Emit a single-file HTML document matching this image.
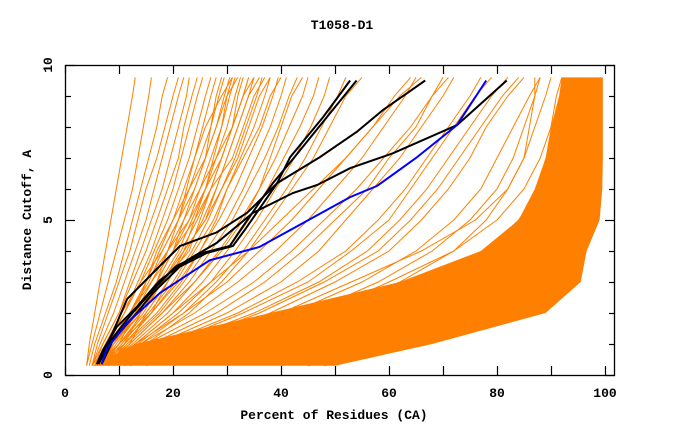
<!DOCTYPE html>
<html><head><meta charset="utf-8"><style>
body{margin:0;background:#fff}
svg text{font-family:"Liberation Mono",monospace;font-weight:bold;font-size:13px;fill:#000}
</style></head><body>
<svg id="chart" width="680" height="440">
<text x="342" y="29" text-anchor="middle">T1058-D1</text>
<text x="334" y="419" text-anchor="middle">Percent of Residues (CA)</text>
<text transform="translate(31,220) rotate(-90)" text-anchor="middle">Distance Cutoff, A</text>
<g id="plot"></g>
<g id="axes"></g>
</svg>
<script>
const yGrid=[0.3,1,2,3,4,5,6,7,8,9,9.6];
const xTicks=[0,20,40,60,80,100];
const yTicks=[0,5,10];
const bandUpper=[5,13,38,62,77,84,87,89,90,91.5,92];
const bandLower=[50,68,89,95.5,96.6,99,99.5,99.6,99.6,99.6,99.6];
const leftLines=[
[4,4.5,5.5,6.5,7.5,8.5,9.5,10.5,11.5,12.5,13],
[4,5,6.5,8,9.5,11,12.5,13.5,14.5,15.5,16],
[4.5,5.5,7.5,9.5,11,12.5,14,15.5,17,18,19],
[5,6,8,10,12,13.5,15,17,18.5,20,21],
[5,6.5,9,11,13,15,16.5,18,19.5,21,22],
[5,7,10,12,14,16,18,19.5,21,22.5,23],
[5.5,7,10,12.5,15,17,19,21,22,23.5,24.5],
[5.5,7.5,11,13.5,16,18,20,21.5,23,24.5,25.5],
[6,8,11,14,16.5,19,21,23,24.5,26,27],
[6,8,12,15,17.5,20,22,24,25.5,27,28],
[6,8.5,12,15.5,18,21,23,25,27,28.5,29.5],
[6,9,13,16,19,22,24,26,28,29.5,30.5],
[6.5,9,13.5,17,20,23,25,27,29,30.5,31.5],
[6.5,9.5,14,17.5,21,23.5,26,28,30,31.5,32.5],
[6.5,10,14.5,18,21.5,24.5,27,29,31,33,34],
[7,10,15,19,22.5,25.5,28,30,32,34,35],
[7,10.5,15.5,20,23.5,26.5,29,31.5,33.5,35.5,36.5],
[7,11,16,20.5,24,27.5,30,32.5,35,37,38],
[7,11,17,21.5,25,28.5,31.5,34,36.5,38.5,39.5],
[7.5,11.5,17.5,22,26,30,33,35.5,38,40,41],
[7.5,12,18,23,27,31,34,37,39.5,41.5,43],
[7.5,12.5,19,24,28.5,32.5,36,39,41.5,44,45],
[8,13,20,25.5,30,34,37.5,40.5,43.5,46,47],
[8,13.5,21,27,31.5,35.5,39,42.5,45.5,48,49],
[8,14,22,28,33,37,41,44.5,47.5,50.5,52],
[6,7.5,10.5,14,18,21,22.5,24,26,29,31],
[7,9,12,15,19,23,26,27.5,29,30,31],
[5,8,13,15,17,20,23,26,28,30,32],
[6,10,13,17,20,22,25,28,31,32,33],
[7,12,15,19,22,26,28,30,32,34,36],
[8,11,14,18,23,25,27,31,33,35,37],
[5.5,9,13,17,19,21,24,26,27,28,29],
[6,11,16,19,22,24,26,29,31,33,34],
[6,9,14,18,22,26,29,32,34,36,38],
[7,10,16,21,25,28,30,33,36,38,40],
[6.5,8,12,16,20,24,27,29,31,33,35],
[8,12,18,24,29,33,36,38,40,42,44],
[9,15,23,29,34,38,42,46,49,52,55]
];
const midLines=[
[8,14,24,32,39,45,50,55,59,63,65],
[8,15,26,35,42,48,54,59,64,68,70],
[9,17,30,40,47,52,57,62,66,70,72],
[9,18,32,43,52,58,63,67,71,75,77],
[10,20,35,47,56,62,67,71,75,79,82],
[10,22,38,50,60,66,71,75,78,82,85],
[11,24,42,55,65,72,77,80,83,86,88],
[12,26,45,58,68,75,80,83,85,87,88],
[9,16,28,37,44,50,56,60,65,68,71],
[10,19,33,45,53,60,64,68,72,76,79],
[7,13,22,30,36,42,47,52,57,61,64],
[12,28,48,62,72,78,82,85,86,87,87],
[8,13,20,27,34,40,46,52,57,62,66],
[11,21,36,48,58,64,69,73,77,81,84]
];
const denseLines=[
[10,25,40,53,66,76,82,85,87,89,90],
[15,32,47,60,72,80,85,88,90,91,92],
[20,40,55,68,78,84,88,90,92,93,94],
[30,50,65,76,84,88,91,93,94,95,96],
[40,60,73,82,88,91,93,94,95,96,97],
[45,64,80,87,91,93,95,96,97,97.5,98],
[48,66,86,92,94,96,97,97.5,98,98.5,99]
];
const blueY=[0.35,0.84,1.68,2.65,3.7,4.13,4.85,5.74,6.1,7,8.06,9.5];
const blueX=[6.8,7.7,11.5,17.6,26.8,36,43.5,52.8,57.8,65,72.6,78];
const blackAY=[0.35,0.8,1.55,2.2,3.06,3.7,4.26,5.23,5.87,6.13,6.67,7.15,8.06,9.5];
const blackAX=[5.9,7,9.6,13.3,17.6,22.6,28.1,34.8,42.2,46.7,52.8,60.7,72.6,81.8];
const blackBY=[0.35,1.4,2.45,3.42,4.16,4.6,5.23,6.19,7.03,7.84,8.55,9.5];
const blackBX=[5.9,8.9,11.5,17,21.3,28.1,33.7,39.3,47.2,54,58.9,66.7];
const blackCY=[0.35,1.13,2,2.65,3.5,3.94,4.16,4.68,6.19,7.03,8.32,9.5];
const blackCX=[6.8,8.9,13.3,16.3,21.3,26.3,31.1,33.3,39.3,41.7,47.8,52.8];
const blackDX=[6.2,8.5,12.5,15.8,20.5,25.5,30.5,32.5,38.5,42.5,48.5,54];

const X0=65,X1=605,Y0=375,Y1=65;
const sx=v=>X0+(X1-X0)*v/100;
const sy=v=>Y0-(Y0-Y1)*v/10;
const NS="http://www.w3.org/2000/svg";
const plot=document.getElementById('plot');
const axes=document.getElementById('axes');
function mk(tag,parent){const e=document.createElementNS(NS,tag);parent.appendChild(e);return e;}
function pts(xs,ys){return xs.map((x,i)=>sx(x).toFixed(1)+','+sy(ys[i]).toFixed(1)).join(' ');}

const band=mk('polygon',plot);


const upperPts=bandUpper.map((x,i)=>sx(x)+','+sy(yGrid[i]));
const lowerPts=bandLower.map((x,i)=>sx(x)+','+sy(yGrid[i])).reverse();
band.setAttribute('points',upperPts.concat(lowerPts).join(' '));
band.setAttribute('fill','#ff8000');

function orange(list,name){
  list.forEach(xs=>{
    const p=mk('polyline',plot);
    
    
    p.setAttribute('points',pts(xs,yGrid));
    p.setAttribute('fill','none');p.setAttribute('stroke','#ff8000');p.setAttribute('stroke-width','1');
  });
}
orange(leftLines,'model-curve');
orange(midLines,'model-curve');
orange(denseLines,'model-curve');

function strong(xs,ys,color,name){
  const p=mk('polyline',plot);
  
  
  p.setAttribute('points',pts(xs,ys));
  p.setAttribute('fill','none');p.setAttribute('stroke',color);p.setAttribute('stroke-width','2');
}
strong(blackAX,blackAY,'#000','black-curve-a');
strong(blackBX,blackBY,'#000','black-curve-b');
strong(blackCX,blackCY,'#000','black-curve-c');
strong(blackDX,blackCY,'#000','black-curve-d');
strong(blueX,blueY,'#0000ff','blue-curve');

const fr=mk('rect',axes);


fr.setAttribute('x',65.5);fr.setAttribute('y',65.5);fr.setAttribute('width',549);fr.setAttribute('height',310);
fr.setAttribute('fill','none');fr.setAttribute('stroke','#000');fr.setAttribute('stroke-width','1.3');
function ln(x1,y1,x2,y2,name){const l=mk('line',axes);
  
  
  l.setAttribute('x1',x1);l.setAttribute('y1',y1);l.setAttribute('x2',x2);l.setAttribute('y2',y2);l.setAttribute('stroke','#000');l.setAttribute('stroke-width','1.2');}
for(let v=0;v<=100;v+=10){const x=Math.round(sx(v))+0.5;ln(x,375,x,366,'x-tick');ln(x,65,x,74,'x-tick-top');}
for(let v=0;v<=10;v+=1){const y=Math.round(sy(v))+0.5;const L=(v%5===0)?10:6;ln(65,y,65+L,y,'y-tick');ln(615,y,615-L,y,'y-tick-right');}
xTicks.forEach(v=>{const t=mk('text',axes);
  
  
  t.setAttribute('x',sx(v));t.setAttribute('y',397);t.setAttribute('text-anchor','middle');t.textContent=v;});
yTicks.forEach(v=>{const t=mk('text',axes);
  
  
  t.setAttribute('transform','translate('+52+','+sy(v)+') rotate(-90)');t.setAttribute('text-anchor','middle');t.textContent=v;});
</script>
</body></html>
